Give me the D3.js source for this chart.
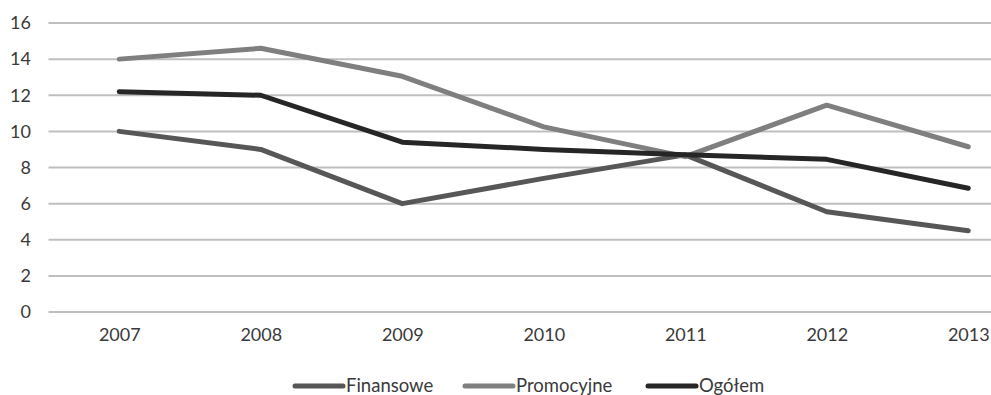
<!DOCTYPE html>
<html>
<head>
<meta charset="utf-8">
<script src="https://cdn.jsdelivr.net/npm/d3@7/dist/d3.min.js"></script>
<style>
  html, body { margin: 0; padding: 0; background: #fff; }
  svg { display: block; }
</style>
</head>
<body>
<svg id="chart" width="991" height="395"></svg>
<script>
// Years on the x axis
const years = ["2007", "2008", "2009", "2010", "2011", "2012", "2013"];
// Series values
const finansowe  = [10.0, 9.0, 6.0, 7.4, 8.7, 5.55, 4.5];
const promocyjne = [14.0, 14.6, 13.05, 10.25, 8.6, 11.45, 9.15];
const ogolem     = [12.2, 12.0, 9.4, 9.0, 8.7, 8.45, 6.85];
// Y axis tick values
const yTicks = [0, 2, 4, 6, 8, 10, 12, 14, 16];

const seriesNames  = ["Finansowe", "Promocyjne", "Ogółem"];
const seriesValues = [finansowe, promocyjne, ogolem];
const seriesColors = ["#575757", "#7f7f7f", "#262626"];

const svg = d3.select("#chart");
const font = "Lato, 'Open Sans', sans-serif";

const x = d3.scalePoint().domain(years).range([48.5, 1039]).padding(0.5);
const y = d3.scaleLinear().domain([0, 16]).range([312, 23]);

// Horizontal gridlines
svg.append("g")
  .selectAll("line")
  .data(yTicks)
  .join("line")
  .attr("x1", 48.5).attr("x2", 1039)
  .attr("y1", d => y(d)).attr("y2", d => y(d))
  .attr("stroke", "#bfbfbf")
  .attr("stroke-width", 2);

// Y axis labels
const yAxis = svg.append("g")
  .attr("transform", "translate(31,0)")
  .call(d3.axisLeft(y).tickValues(yTicks).tickSize(0).tickPadding(0));
yAxis.select(".domain").remove();
yAxis.selectAll("text")
  .attr("font-family", font)
  .attr("font-size", 18)
  .attr("fill", "#3a3a3a");

// X axis labels
const xAxis = svg.append("g")
  .attr("transform", "translate(0,328)")
  .call(d3.axisBottom(x).tickSize(0).tickPadding(0));
xAxis.select(".domain").remove();
xAxis.selectAll("text")
  .attr("font-family", font)
  .attr("font-size", 18)
  .attr("fill", "#3a3a3a");

// Lines
const line = d3.line()
  .x((d, i) => x(years[i]))
  .y(d => y(d));

svg.append("g")
  .selectAll("path")
  .data(seriesValues)
  .join("path")
  .attr("d", d => line(d))
  .attr("fill", "none")
  .attr("stroke", (d, i) => seriesColors[i])
  .attr("stroke-width", 5)
  .attr("stroke-linejoin", "round")
  .attr("stroke-linecap", "round");

// Legend
const legendX = [295, 465, 648];
const legend = svg.append("g");
seriesNames.forEach((name, i) => {
  legend.append("line")
    .attr("x1", legendX[i]).attr("x2", legendX[i] + 48)
    .attr("y1", 386).attr("y2", 386)
    .attr("stroke", seriesColors[i])
    .attr("stroke-width", 5)
    .attr("stroke-linecap", "round");
  legend.append("text")
    .attr("x", legendX[i] + 51)
    .attr("y", 392)
    .attr("font-family", font)
    .attr("font-size", 18.5)
    .attr("fill", "#3a3a3a")
    .text(name);
});
</script>
</body>
</html>
